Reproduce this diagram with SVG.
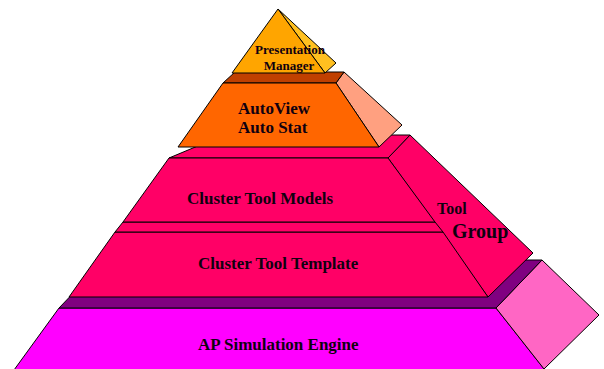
<svg xmlns="http://www.w3.org/2000/svg" width="604" height="369" viewBox="0 0 604 369">
<style>
  .f { stroke: #000; stroke-width: 1; stroke-linejoin: miter; }
  .t { font-family: "Liberation Serif", "Times New Roman", serif; font-weight: bold; fill: #100010; }
</style>
<rect width="604" height="369" fill="#fff"/>
<g id="engine">
  <polygon class="f" fill="#FF00FF" points="59,308 496,308 545,370 14,370"/>
  <polygon class="f" fill="#FF66C4" points="496,308 542,260 599,315 544,369"/>
  <polygon class="f" fill="#800080" points="59,308 496,308 542,260 105,260"/>
  <text class="t" x="198" y="350" font-size="17">AP Simulation Engine</text>
</g>
<g id="tool-group">
  <polygon class="f" fill="#FF0066" points="388,158 410,135 533,253 488,297"/>
  <text class="t" x="437" y="214" font-size="16">Tool</text>
  <text class="t" x="452" y="238" font-size="20">Group</text>
</g>
<g id="template">
  <polygon class="f" fill="#FF0066" points="115,232 443,232 488,297 69,297"/>
  <polygon class="f" fill="#FF0066" points="123,222 435,222 443,232 115,232"/>
  <text class="t" x="198" y="269" font-size="17">Cluster Tool Template</text>
</g>
<g id="models">
  <polygon class="f" fill="#FF0066" points="169,158 388,158 410,135 224,135"/>
  <polygon class="f" fill="#FF0066" points="169,158 388,158 435,222 123,222"/>
  <text class="t" x="187" y="204" font-size="17">Cluster Tool Models</text>
</g>
<g id="autoview">
  <polygon class="f" fill="#FFA080" points="336,83 344,72 402,125 379,147"/>
  <polygon class="f" fill="#C04000" points="223,83 336,83 344,72 235,72"/>
  <polygon class="f" fill="#FF6600" points="223,83 336,83 379,147 178,147"/>
  <text class="t" x="238" y="114" font-size="17">AutoView</text>
  <text class="t" x="238" y="133" font-size="17">Auto Stat</text>
</g>
<g id="presentation-manager">
  <polygon class="f" fill="#FFC020" points="278,9 325,73 336,63"/>
  <polygon class="f" fill="#FFA500" points="278,9 232,73 325,73"/>
  <text class="t" x="290" y="54" font-size="13" text-anchor="middle">Presentation</text>
  <text class="t" x="289" y="70" font-size="13" text-anchor="middle">Manager</text>
</g>
<g id="connectors"></g>
</svg>
